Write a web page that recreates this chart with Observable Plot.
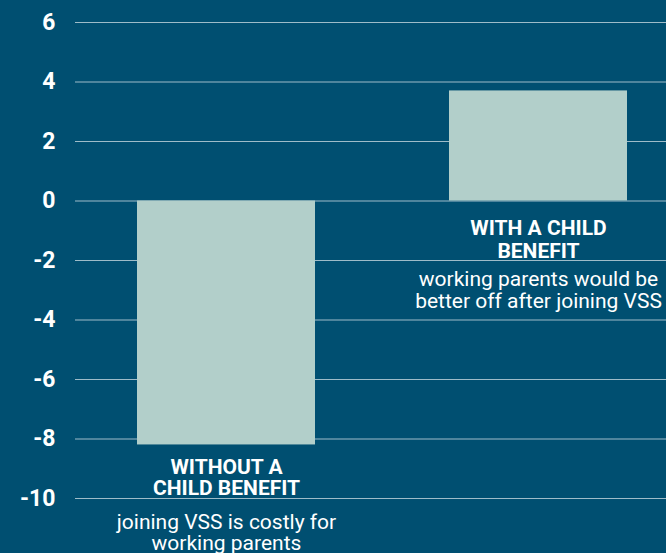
<!DOCTYPE html>
<html>
<head>
<meta charset="utf-8">
<script src="https://cdn.jsdelivr.net/npm/d3@7"></script>
<script src="https://cdn.jsdelivr.net/npm/@observablehq/plot@0.6"></script>
<style>
  html, body { margin: 0; padding: 0; background: #004f71; }
  #chart svg { display: block; overflow: visible; }
</style>
</head>
<body>
<div id="chart"></div>
<script>
const categories = ["Without a child benefit", "With a child benefit"];
const values = [-8.2, 3.7];
const headlines = ["WITHOUT A\nCHILD BENEFIT", "WITH A CHILD\nBENEFIT"];
const notes = ["joining VSS is costly for\nworking parents", "working parents would be\nbetter off after joining VSS"];
const yTicks = [-10, -8, -6, -4, -2, 0, 2, 4, 6];

const data = categories.map((c, i) => ({
  category: c, value: values[i], headline: headlines[i], note: notes[i]
}));
const neg = data.filter(d => d.value < 0);
const pos = data.filter(d => d.value >= 0);

const font = "Roboto, 'Liberation Sans', sans-serif";
const white = "#ffffff";

const chart = Plot.plot({
  width: 666,
  height: 553,
  marginTop: 22,
  marginBottom: 55,
  marginLeft: 75,
  marginRight: 0,
  style: { background: "#004f71", color: white, fontFamily: font, overflow: "visible" },
  x: { domain: categories, range: [137, 627], padding: 0.4295, paddingOuter: 0, axis: null },
  y: { domain: [-10, 6], ticks: yTicks },
  marks: [
    Plot.ruleY(yTicks, { stroke: "#ffffff", strokeOpacity: 0.62, strokeWidth: 1.2 }),
    Plot.barY(data, { x: "category", y: "value", fill: "#b2cfca" }),
    Plot.axisY({
      ticks: yTicks, tickSize: 0, tickPadding: 20, tickFormat: d => `${d}`,
      fontSize: 23, fontWeight: "bold", fill: white, label: null
    }),
    Plot.text(neg, { x: "category", y: "value", text: "headline", lineAnchor: "top", dy: 14.1,
      fontSize: 21, fontWeight: "bold", fill: white, lineHeight: 1.0 }),
    Plot.text(neg, { x: "category", y: "value", text: "note", lineAnchor: "top", dy: 69.1,
      fontSize: 21, fill: white, lineHeight: 1.0 }),
    Plot.text(pos, { x: "category", y: 0, text: "headline", lineAnchor: "top", dy: 17.9,
      fontSize: 21, fontWeight: "bold", fill: white, lineHeight: 1.08 }),
    Plot.text(pos, { x: "category", y: 0, text: "note", lineAnchor: "top", dy: 69.3,
      fontSize: 21, fill: white, lineHeight: 1.05 })
  ]
});
document.getElementById("chart").appendChild(chart);
</script>
</body>
</html>
